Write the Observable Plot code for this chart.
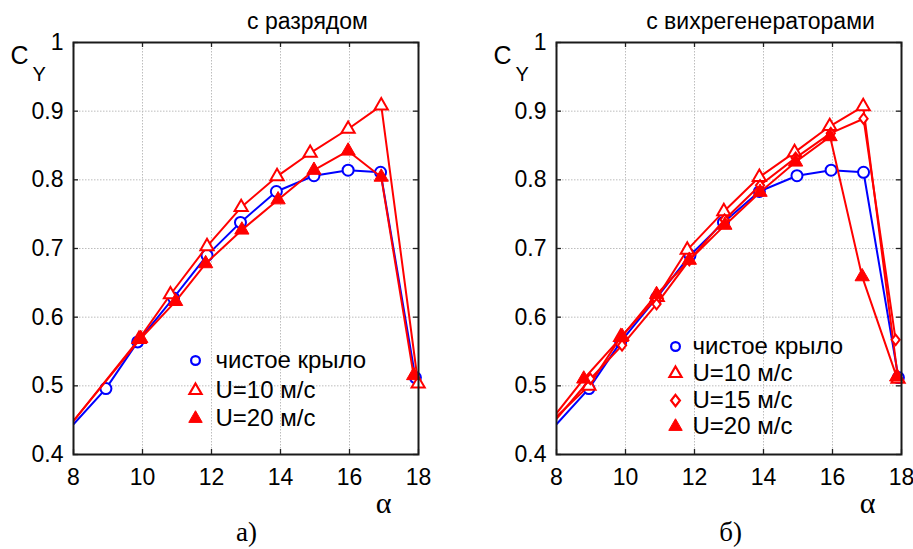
<!DOCTYPE html>
<html><head><meta charset="utf-8">
<script src="https://cdn.jsdelivr.net/npm/d3@7"></script>
<script src="https://cdn.jsdelivr.net/npm/@observablehq/plot@0.6"></script>
<style>
body{margin:0;background:#fff;}
#wrap{display:flex;width:913px;height:549px;background:#fff;}
svg{overflow:visible}
</style></head><body><div id="wrap"></div>
<script>
// ---- tick values ----
const xTicks = [8, 10, 12, 14, 16, 18];
const yTicks = [0.4, 0.5, 0.6, 0.7, 0.8, 0.9, 1];
const xGrid = [10, 12, 14, 16];
const yGrid = [0.5, 0.6, 0.7, 0.8, 0.9];

// ---- series (first point of every series is the line start at the axis, no marker) ----
// clean wing (same in both panels)
const cleanX = [8, 8.94, 9.86, 10.9, 11.87, 12.84, 13.88, 14.97, 15.96, 16.9, 17.91];
const cleanY = [0.444, 0.496, 0.564, 0.628, 0.690, 0.738, 0.783, 0.806, 0.814, 0.811, 0.512];

// panel a) discharge
const aU10X = [8, 9.9, 10.81, 11.87, 12.86, 13.9, 14.86, 15.96, 16.92, 17.99];
const aU10Y = [0.449, 0.568, 0.633, 0.703, 0.760, 0.805, 0.839, 0.874, 0.908, 0.503];
const aU20X = [8, 9.95, 10.96, 11.83, 12.88, 13.93, 14.97, 15.96, 16.92, 17.86];
const aU20Y = [0.449, 0.569, 0.623, 0.678, 0.727, 0.771, 0.814, 0.842, 0.804, 0.515];

// panel б) vortex generators
const bU10X = [8, 8.94, 9.86, 10.92, 11.79, 12.85, 13.88, 14.9, 15.92, 16.89, 17.9];
const bU10Y = [0.455, 0.500, 0.571, 0.629, 0.698, 0.754, 0.804, 0.840, 0.878, 0.907, 0.510];
const bU15X = [8, 8.98, 9.9, 10.9, 11.85, 12.87, 13.9, 14.93, 15.95, 16.9, 17.83];
const bU15Y = [0.452, 0.510, 0.559, 0.619, 0.683, 0.742, 0.792, 0.832, 0.868, 0.889, 0.567];
const bU20X = [8, 8.79, 9.9, 10.9, 11.85, 12.88, 13.9, 14.93, 15.93, 16.86, 17.86];
const bU20Y = [0.460, 0.510, 0.572, 0.633, 0.683, 0.734, 0.782, 0.826, 0.863, 0.659, 0.513];

// ---- labels ----
const legendA = ["чистое крыло", "U=10 м/с", "U=20 м/с"];
const legendB = ["чистое крыло", "U=10 м/с", "U=15 м/с", "U=20 м/с"];
const titleA = "с разрядом";
const titleB = "с вихрегенераторами";
const letterA = "а)";
const letterB = "б)";

// ---- styling ----
const RED = "#ff0000", BLUE = "#0000ff";
const diamondSym = {draw(ctx, size) {
  const h = Math.sqrt(size / 1.56), w = 0.78 * h;
  ctx.moveTo(0, -h); ctx.lineTo(w, 0); ctx.lineTo(0, h); ctx.lineTo(-w, 0); ctx.closePath();
}};
const styles = {
  clean: {color: BLUE, symbol: "circle", fill: "white", r: 5.5, lr: 4.4},
  u10: {color: RED, symbol: "triangle", fill: "white", r: 4.9, lr: 4.5},
  u15: {color: RED, symbol: diamondSym, fill: "white", r: 3.7, lr: 4.0},
  u20: {color: RED, symbol: "triangle", fill: RED, r: 5.3, lr: 5.0}
};
function pts(xs, ys) { return xs.map((x, i) => ({x, y: ys[i]})); }

const H = 549, MT = 42, MB = 95;

function panel({width, marginLeft, marginRight, series, legend, legendKeys, legendDx, legendTextDx, legendDy,
                title, titleDx, letter, letterDx, alphaDx}) {
  const fw = width - marginLeft - marginRight, fh = H - MT - MB;
  const marks = [
    Plot.ruleX(xGrid, {stroke: "#bdbdbd", strokeDasharray: "1.5,1.5", strokeWidth: 1}),
    Plot.ruleY(yGrid, {stroke: "#bdbdbd", strokeDasharray: "1.5,1.5", strokeWidth: 1}),
    Plot.tickX(xTicks, {x: d => d, insetTop: fh - 5, stroke: "#222", strokeWidth: 1.3}),
    Plot.tickX(xTicks, {x: d => d, insetBottom: fh - 5, stroke: "#222", strokeWidth: 1.3}),
    Plot.tickY(yTicks, {y: d => d, insetRight: fw - 5, stroke: "#222", strokeWidth: 1.3}),
    Plot.tickY(yTicks, {y: d => d, insetLeft: fw - 5, stroke: "#222", strokeWidth: 1.3}),
    Plot.axisX({ticks: xTicks, tickSize: 0, tickPadding: 14, fontSize: 23, label: null, tickFormat: d => String(d)}),
    Plot.axisY({ticks: yTicks, tickSize: 0, tickPadding: 10, fontSize: 23, label: null, tickFormat: d => String(d)})
  ];
  for (const s of series) {
    const st = styles[s.key];
    const data = pts(s.xs, s.ys);
    marks.push(Plot.line(data, {x: "x", y: "y", stroke: st.color, strokeWidth: 2, clip: true}));
    marks.push(Plot.dot(data.slice(1), {x: "x", y: "y", symbol: st.symbol, r: st.r, stroke: st.color,
      fill: st.fill, strokeWidth: st.fill === "white" ? 2 : 1}));
  }
  marks.push(Plot.frame({stroke: "#1a1a1a", strokeWidth: 2}));
  legend.forEach((lab, i) => {
    const st = styles[legendKeys[i]];
    marks.push(Plot.dot([lab], {frameAnchor: "top-left", dx: legendDx, dy: legendDy[i], symbol: st.symbol,
      r: st.lr, stroke: st.color, fill: st.fill, strokeWidth: st.fill === "white" ? 2.2 : 1}));
    marks.push(Plot.text([lab], {frameAnchor: "top-left", dx: legendTextDx, dy: legendDy[i], text: d => d,
      textAnchor: "start", lineAnchor: "middle", fontSize: 24, fill: "black"}));
  });
  marks.push(Plot.text([title], {frameAnchor: "top-left", dx: titleDx, dy: -14, text: d => d,
    textAnchor: "middle", lineAnchor: "bottom", fontSize: 23, fill: "black"}));
  marks.push(Plot.text(["C"], {frameAnchor: "top-left", dx: -63, dy: 21, text: d => d,
    textAnchor: "start", lineAnchor: "bottom", fontSize: 25, fill: "black"}));
  marks.push(Plot.text(["Y"], {frameAnchor: "top-left", dx: -41, dy: 38, text: d => d,
    textAnchor: "start", lineAnchor: "bottom", fontSize: 20, fill: "black"}));
  marks.push(Plot.text(["α"], {frameAnchor: "top-left", dx: alphaDx, dy: 470, text: d => d,
    textAnchor: "middle", lineAnchor: "bottom", fontSize: 30, fontFamily: "Liberation Serif", fill: "black"}));
  marks.push(Plot.text([letter], {frameAnchor: "top-left", dx: letterDx, dy: 498, text: d => d,
    textAnchor: "middle", lineAnchor: "bottom", fontSize: 27, fontFamily: "Liberation Serif", fill: "black"}));
  return Plot.plot({
    width, height: H, marginLeft, marginRight, marginTop: MT, marginBottom: MB,
    x: {domain: [8, 18], label: null}, y: {domain: [0.4, 1], label: null},
    style: {fontFamily: "Liberation Sans", fontSize: "23px", color: "black", background: "white", overflow: "visible"},
    marks
  });
}

const wrap = document.getElementById("wrap");
wrap.appendChild(panel({
  width: 456, marginLeft: 73, marginRight: 38,
  series: [
    {key: "clean", xs: cleanX, ys: cleanY},
    {key: "u10", xs: aU10X, ys: aU10Y},
    {key: "u20", xs: aU20X, ys: aU20Y}
  ],
  legend: legendA, legendKeys: ["clean", "u10", "u20"],
  legendDx: 122, legendTextDx: 142, legendDy: [318, 348, 376],
  title: titleA, titleDx: 234, letter: letterA, letterDx: 173, alphaDx: 310
}));
wrap.appendChild(panel({
  width: 457, marginLeft: 100, marginRight: 12,
  series: [
    {key: "clean", xs: cleanX, ys: cleanY},
    {key: "u10", xs: bU10X, ys: bU10Y},
    {key: "u15", xs: bU15X, ys: bU15Y},
    {key: "u20", xs: bU20X, ys: bU20Y}
  ],
  legend: legendB, legendKeys: ["clean", "u10", "u15", "u20"],
  legendDx: 119, legendTextDx: 136, legendDy: [304, 331, 358, 384],
  title: titleB, titleDx: 204, letter: letterB, letterDx: 174, alphaDx: 311
}));
</script></body></html>
